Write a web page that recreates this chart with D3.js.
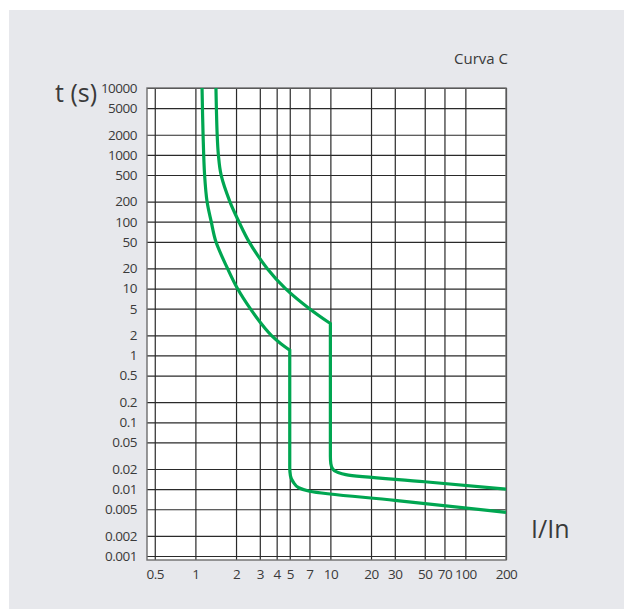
<!DOCTYPE html>
<html>
<head>
<meta charset="utf-8">
<script src="https://cdn.jsdelivr.net/npm/d3@7"></script>
<style>
  html, body { margin: 0; padding: 0; background: #fff; }
  svg { display: block; }
  text { font-family: "Open Sans", "Noto Sans", sans-serif; fill: #3a3a3a; }
</style>
</head>
<body>
<script>
// multiples of In along the bottom, seconds up the side
var xTicks = [0.5, 1, 2, 3, 4, 5, 7, 10, 20, 30, 50, 70, 100, 200];
var yTicks = [10000, 5000, 2000, 1000, 500, 200, 100, 50, 20, 10, 5, 2, 1,
              0.5, 0.2, 0.1, 0.05, 0.02, 0.01, 0.005, 0.002, 0.001];

// [I/In, t]. thermal part ends where the magnetic drop starts
var minThermal = [[1.12, 10000], [1.14, 2000], [1.17, 500], [1.22, 200], [1.31, 100],
                  [1.42, 50], [1.73, 20], [2.05, 10], [2.55, 5], [3.3, 2.5], [3.65, 2],
                  [4.3, 1.5], [5, 1.2]];
var minMagnetic = [[5, 1.2], [5, 0.021], [5.06, 0.0158], [5.29, 0.0129], [5.83, 0.0105],
                   [7, 0.0093], [30, 0.0068], [200, 0.0045]];
var maxThermal = [[1.42, 10000], [1.45, 2000], [1.48, 1000], [1.55, 500], [1.8, 200],
                  [2.1, 100], [2.5, 50], [3.4, 20], [4.65, 10], [7, 5], [10, 3.0]];
var maxMagnetic = [[10, 3.0], [10, 0.031], [10.08, 0.024], [10.4, 0.02], [11.4, 0.0177],
                   [13, 0.0165], [50, 0.0129], [200, 0.01]];

var W = 624, H = 609;
var frame = {left: 147, right: 506, top: 88, bottom: 560};

var svg = d3.select('body').append('svg')
  .attr('width', W)
  .attr('height', H);

svg.append('rect') // grey card, white strip top/left
  .attr('x', 9).attr('y', 10)
  .attr('width', W - 9).attr('height', H - 10)
  .attr('fill', '#e7e8ec');

var x = d3.scaleLog().domain([0.438, 200]).range([frame.left, frame.right]);
var y = d3.scaleLog().domain([0.001, 10000]).range([556, frame.top]);

svg.append('rect')
  .attr('x', frame.left).attr('y', frame.top)
  .attr('width', frame.right - frame.left)
  .attr('height', frame.bottom - frame.top)
  .attr('fill', '#fff');

// grid, done with axes so the lines come off the scales
var gridX = svg.append('g')
  .attr('transform', 'translate(0,' + frame.bottom + ')')
  .call(d3.axisBottom(x).tickValues(xTicks).tickFormat('')
    .tickSize(-(frame.bottom - frame.top)).tickSizeOuter(0));
var gridY = svg.append('g')
  .attr('transform', 'translate(' + frame.left + ',0)')
  .call(d3.axisLeft(y).tickValues(yTicks).tickFormat('')
    .tickSize(-(frame.right - frame.left)).tickSizeOuter(0));
[gridX, gridY].forEach(function (g) {
  g.select('.domain').remove();
  g.selectAll('.tick line').attr('stroke', '#2a2a2a').attr('stroke-width', 1.2);
});

svg.append('rect') // outer border, a bit lighter than the grid
  .attr('x', frame.left).attr('y', frame.top)
  .attr('width', frame.right - frame.left)
  .attr('height', frame.bottom - frame.top)
  .attr('fill', 'none')
  .attr('stroke', '#6e6e6e')
  .attr('stroke-width', 1.4);

// tick labels (the original face is a narrow one, so squeeze a little)
var yLabels = svg.append('g')
  .attr('transform', 'translate(137,0)')
  .call(d3.axisLeft(y).tickValues(yTicks).tickFormat(String).tickSize(0).tickPadding(0));
var xLabels = svg.append('g')
  .attr('transform', 'translate(0,569)')
  .call(d3.axisBottom(x).tickValues(xTicks).tickFormat(String).tickSize(0).tickPadding(0));
[xLabels, yLabels].forEach(function (g) {
  g.select('.domain').remove();
  g.selectAll('text')
    .attr('font-family', '"Open Sans", sans-serif')
    .attr('font-size', 13.5)
    .attr('letter-spacing', '-0.5px')
    .attr('fill', '#3a3a3a');
});

// each curve: smooth thermal bit, then the drop + tail joined on as one path
function curvePath(thermal, magnetic) {
  var px = function (d) { return x(d[0]); };
  var py = function (d) { return y(d[1]); };
  var smooth = d3.line().x(px).y(py).curve(d3.curveCatmullRom.alpha(0.5));
  var drop = d3.line().x(px).y(py).curve(d3.curveMonotoneY);
  return smooth(thermal) + drop(magnetic).replace(/^M/, 'L');
}

svg.selectAll('path.curve')
  .data([[minThermal, minMagnetic], [maxThermal, maxMagnetic]])
  .enter()
  .append('path')
  .attr('class', 'curve')
  .attr('d', function (d) { return curvePath(d[0], d[1]); })
  .attr('fill', 'none')
  .attr('stroke', '#00a651')
  .attr('stroke-width', 3.2)
  .attr('stroke-linejoin', 'miter');

svg.append('text')
  .attr('x', 508).attr('y', 64)
  .attr('text-anchor', 'end')
  .attr('font-size', 15)
  .text('Curva C');

svg.append('text')
  .attr('x', 55).attr('y', 102)
  .attr('font-size', 25)
  .text('t (s)');

svg.append('text')
  .attr('x', 531).attr('y', 538)
  .attr('font-size', 25)
  .text('I/In');
</script>
</body>
</html>
